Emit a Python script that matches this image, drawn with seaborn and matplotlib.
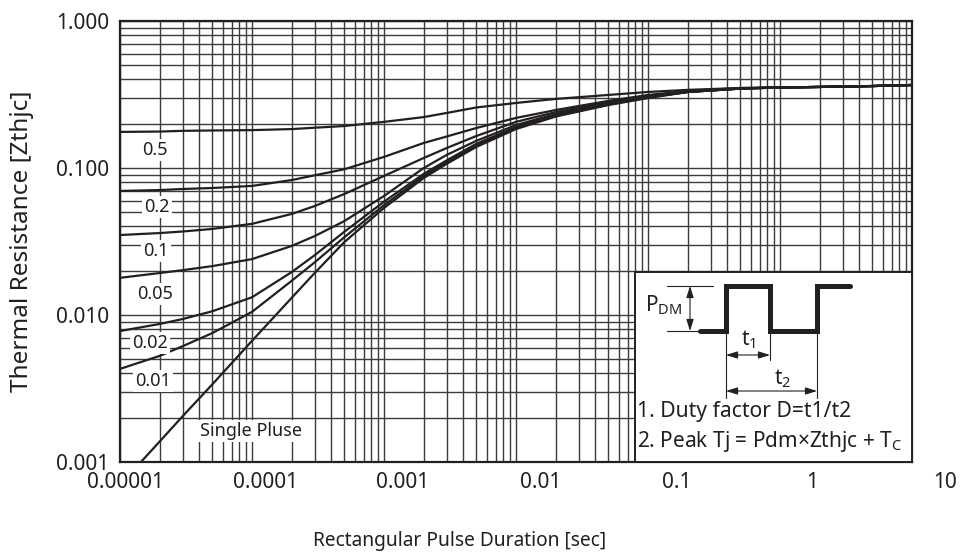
import numpy as np
import pandas as pd
import matplotlib
matplotlib.use("Agg")
import matplotlib.pyplot as plt
import matplotlib.transforms as mtransforms
import seaborn as sns
from matplotlib.patches import Rectangle
from matplotlib.ticker import LogLocator, FixedLocator, FixedFormatter, NullFormatter

# ---------------- data ----------------
pulse_t = [1e-5, 2e-5, 3e-5, 5e-5, 1e-4, 2e-4, 3e-4, 5e-4, 1e-3, 2e-3, 3e-3, 5e-3, 1e-2,
           2e-2, 5e-2, 0.1, 0.2, 0.5, 1, 2, 5, 10]
single_t = [1.44e-5, 2e-5, 3e-5, 5e-5, 1e-4, 2e-4, 3e-4, 5e-4, 1e-3, 2e-3, 3e-3, 5e-3, 1e-2,
            2e-2, 5e-2, 0.1, 0.2, 0.5, 1, 2, 5, 10]

z_d05 = [0.176, 0.177, 0.179, 0.180, 0.181, 0.184, 0.188, 0.193, 0.206, 0.222, 0.237, 0.258,
         0.277, 0.295, 0.314, 0.329, 0.340, 0.350, 0.353, 0.356, 0.361, 0.367]
z_d02 = [0.0698, 0.0708, 0.0720, 0.0731, 0.0755, 0.0828, 0.0893, 0.0980, 0.119, 0.148, 0.164,
         0.187, 0.219, 0.248, 0.286, 0.314, 0.334, 0.350, 0.353, 0.356, 0.361, 0.367]
z_d01 = [0.0350, 0.0361, 0.0370, 0.0385, 0.0417, 0.0487, 0.0552, 0.0665, 0.0883, 0.117, 0.137,
         0.165, 0.206, 0.240, 0.281, 0.309, 0.331, 0.347, 0.353, 0.356, 0.361, 0.367]
z_d005 = [0.0179, 0.0193, 0.0202, 0.0215, 0.0240, 0.0295, 0.0345, 0.0435, 0.0645, 0.100, 0.123,
          0.153, 0.196, 0.233, 0.277, 0.304, 0.329, 0.347, 0.353, 0.356, 0.361, 0.367]
z_d002 = [0.00778, 0.00869, 0.00940, 0.0106, 0.0132, 0.0196, 0.0256, 0.0368, 0.0590, 0.0912,
          0.113, 0.146, 0.190, 0.229, 0.272, 0.304, 0.329, 0.347, 0.353, 0.356, 0.361, 0.367]
z_d001 = [0.00430, 0.00527, 0.00615, 0.00753, 0.0105, 0.0171, 0.0229, 0.0338, 0.0559, 0.0882,
          0.110, 0.143, 0.187, 0.226, 0.270, 0.302, 0.329, 0.347, 0.353, 0.356, 0.361, 0.367]
z_single = [0.001, 0.00138, 0.00206, 0.00337, 0.00667, 0.0131, 0.0194, 0.0313, 0.0535, 0.0855,
            0.107, 0.139, 0.184, 0.224, 0.268, 0.299, 0.329, 0.347, 0.353, 0.356, 0.361, 0.367]

curve_names = ["0.5", "0.2", "0.1", "0.05", "0.02", "0.01", "Single Pluse"]

x_ticks = [1e-5, 1e-4, 1e-3, 1e-2, 1e-1, 1, 10]
x_tick_labels = ["0.00001", "0.0001", "0.001", "0.01", "0.1", "1", "10"]
y_ticks = [0.001, 0.01, 0.1, 1.0]
y_tick_labels = ["0.001", "0.010", "0.100", "1.000"]

# ---------------- build table ----------------
frames = []
for name, zs in zip(curve_names[:-1], [z_d05, z_d02, z_d01, z_d005, z_d002, z_d001]):
    frames.append(pd.DataFrame({"t": pulse_t, "z": zs, "curve": name}))
frames.append(pd.DataFrame({"t": single_t, "z": z_single, "curve": curve_names[-1]}))
df = pd.concat(frames, ignore_index=True)

# ---------------- style ----------------
sns.set_theme(style="white")
plt.rcParams["font.family"] = ["Noto Sans", "DejaVu Sans"]
plt.rcParams["mathtext.fontset"] = "custom"
plt.rcParams["mathtext.rm"] = "Noto Sans"
plt.rcParams["mathtext.it"] = "Noto Sans"

fig = plt.figure(figsize=(9.62, 5.56), dpi=100)
ax = fig.add_axes([120 / 962, 1 - 462 / 556, 792 / 962, 441 / 556])

INK = "#231f20"
FS = 15.0
sns.lineplot(data=df, x="t", y="z", hue="curve", units="curve", estimator=None,
             palette={n: INK for n in curve_names}, linewidth=1.6,
             legend=False, sort=False, ax=ax, zorder=2)

ax.set_xscale("log")
ax.set_yscale("log")
ax.set_xlim(1e-5, 10)
ax.set_ylim(0.001, 1.0)

ax.xaxis.set_major_locator(FixedLocator(x_ticks))
ax.xaxis.set_major_formatter(FixedFormatter(x_tick_labels))
ax.yaxis.set_major_locator(FixedLocator(y_ticks))
ax.yaxis.set_major_formatter(FixedFormatter(y_tick_labels))
ax.xaxis.set_minor_locator(LogLocator(base=10, subs=np.arange(2, 10), numticks=100))
ax.yaxis.set_minor_locator(LogLocator(base=10, subs=np.arange(2, 10), numticks=100))
ax.xaxis.set_minor_formatter(NullFormatter())
ax.yaxis.set_minor_formatter(NullFormatter())

ax.set_axisbelow(True)
ax.grid(which="both", color="#3c3c3c", linewidth=1.0)
ax.tick_params(which="both", length=0, labelsize=FS, colors=INK)
ax.tick_params(axis="x", pad=7)
ax.tick_params(axis="y", pad=8)
for s in ax.spines.values():
    s.set_color(INK)
    s.set_linewidth(1.6)

# the reference's x tick labels sit slightly right of their grid lines
label_shift_px = [5, 13, 19, 25, 29, 32, 33]
for lab, dx in zip(ax.xaxis.get_majorticklabels(), label_shift_px):
    lab.set_transform(lab.get_transform() +
                      mtransforms.ScaledTranslation(dx / 100, 0, fig.dpi_scale_trans))

ax.set_xlabel("Rectangular Pulse Duration [sec]", fontsize=13.8, color=INK)
ax.set_ylabel("Thermal Resistance [Zthjc]", fontsize=17.5, color=INK)
ax.xaxis.set_label_coords(0.429, -0.156)
ax.yaxis.set_label_coords(-0.108, 0.5)


def P(px, py):
    """pixel of the reference -> axes fraction"""
    return ((px - 120) / 792, (462 - py) / 441)


# curve labels
lab_pos = [(155, 150), (157, 207), (156, 251), (155, 294), (150, 343), (153, 381), (251, 431)]
for name, (px, py) in zip(curve_names, lab_pos):
    ax.text(*P(px, py), name, transform=ax.transAxes, ha="center", va="center",
            fontsize=13, color=INK, zorder=3,
            bbox=dict(boxstyle="square,pad=0.12", fc="white", ec="none"))

# inset box
x0, y0 = P(635, 272)
ax.add_patch(Rectangle((x0, 0), 1 - x0, y0, transform=ax.transAxes,
                       fc="white", ec=INK, lw=1.4, zorder=4, clip_on=False))

# pulse waveform
wx = [700, 726, 726, 770, 770, 817, 817, 850]
wy = [331, 331, 286, 286, 331, 331, 286, 286]
pts = [P(a, b) for a, b in zip(wx, wy)]
ax.plot([p[0] for p in pts], [p[1] for p in pts], transform=ax.transAxes,
        color=INK, lw=3.6, solid_joinstyle="miter", zorder=5)


def seg(a, b, lw=0.8):
    pa, pb = P(*a), P(*b)
    ax.plot([pa[0], pb[0]], [pa[1], pb[1]], transform=ax.transAxes, color=INK,
            lw=lw, zorder=5)


def darrow(a, b):
    ax.annotate("", xy=P(*b), xytext=P(*a), xycoords=ax.transAxes,
                textcoords=ax.transAxes, zorder=6,
                arrowprops=dict(arrowstyle="<|-|>,head_length=0.7,head_width=0.22",
                                color=INK, lw=0.8, shrinkA=0, shrinkB=0,
                                mutation_scale=10))


# P_DM dimension
seg((667, 286), (713, 286))
seg((667, 331), (700, 331))
darrow((690, 286), (690, 331))
ax.text(*P(664, 305), r"P$_{\mathregular{DM}}$", transform=ax.transAxes,
        ha="center", va="center", fontsize=FS, color=INK, zorder=6)

# t1 / t2 dimensions
seg((726, 331), (726, 398))
seg((770, 331), (770, 360))
seg((817, 331), (817, 398))
darrow((726, 355), (770, 355))
darrow((726, 391), (817, 391))
ax.text(*P(748, 340), r"t$_{\mathregular{1}}$", transform=ax.transAxes,
        ha="center", va="center", fontsize=FS, color=INK, zorder=6)
ax.text(*P(783, 379), r"t$_{\mathregular{2}}$", transform=ax.transAxes,
        ha="center", va="center", fontsize=FS, color=INK, zorder=6)

ax.text(*P(637, 412), "1. Duty factor D=t1/t2", transform=ax.transAxes,
        ha="left", va="center", fontsize=15.2, color=INK, zorder=6)
ax.text(*P(637, 442), r"2. Peak Tj = Pdm$\times$Zthjc + T$_{\mathregular{C}}$",
        transform=ax.transAxes, ha="left", va="center", fontsize=15.0,
        color=INK, zorder=6)

fig.savefig("out.png", dpi=100)
